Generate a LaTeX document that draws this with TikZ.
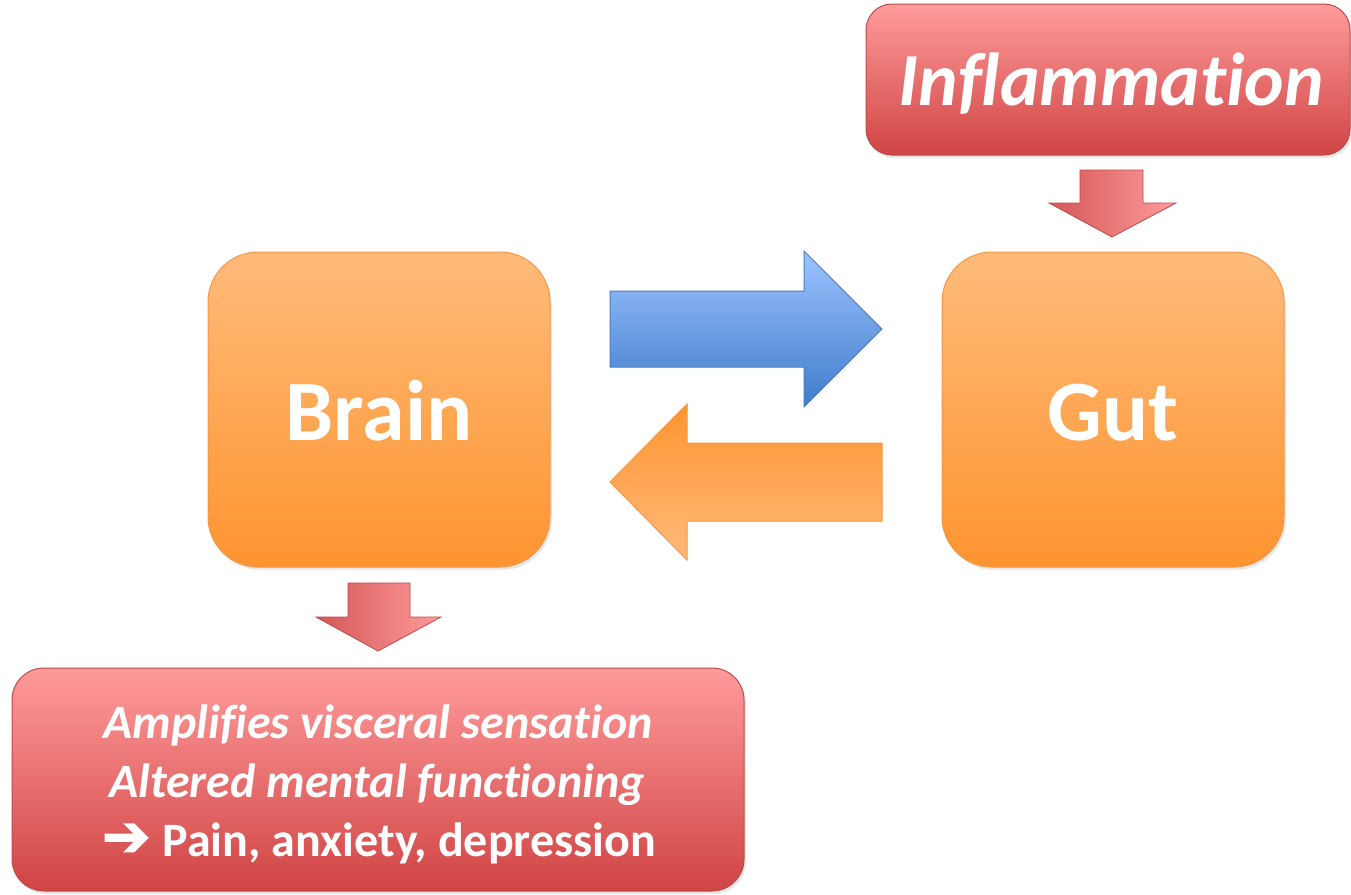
\documentclass[tikz,border=0pt]{standalone}
\usepackage{fontspec}
\setmainfont{Carlito}[Ligatures={NoCommon}, RawFeature={-liga;-dlig}]
\newfontfamily\symfont{DejaVu Sans}[FakeBold=2.5]
\usetikzlibrary{shadows}
\definecolor{orTop}{HTML}{FFBB7A}
\definecolor{orBot}{HTML}{FE9430}
\definecolor{orEdge}{HTML}{F79646}
\definecolor{rdTop}{HTML}{FF9B9B}
\definecolor{rdBot}{HTML}{D04444}
\definecolor{rdEdge}{HTML}{BE4B48}
\definecolor{blTop}{HTML}{9DC3FF}
\definecolor{blBot}{HTML}{3F7CCB}
\definecolor{blEdge}{HTML}{4A7EBB}
\tikzset{
  orbox/.style={draw=orEdge, line width=1pt, top color=orTop, bottom color=orBot, rounded corners=50pt,
     drop shadow={opacity=0.18, shadow xshift=2pt, shadow yshift=-3pt}},
  rdbox/.style={draw=rdEdge, line width=1pt, top color=rdTop, bottom color=rdBot,
     drop shadow={opacity=0.18, shadow xshift=2pt, shadow yshift=-3pt}},
  downarrow/.style={draw=rdEdge, line width=0.8pt, left color=rdBot!90!white, right color=rdTop},
  txt/.style={text=white, inner sep=0pt},
}
\begin{document}
\begin{tikzpicture}[x=1pt, y=-1pt]
\useasboundingbox (0,0) rectangle (1351,894);
% boxes
\draw[orbox] (208,252) rectangle (550,567);
\draw[orbox] (942,252) rectangle (1284,567);
\draw[rdbox, rounded corners=26pt] (866,4) rectangle (1350,155);
\draw[rdbox, rounded corners=32pt] (12,668) rectangle (744,891);
% blue arrow (right)
\draw[draw=blEdge, line width=1pt, top color=blTop, bottom color=blBot]
  (610,291) -- (804,291) -- (804,251) -- (882,329) -- (804,407) -- (804,367) -- (610,367) -- cycle;
% orange arrow (left)
\draw[draw=orEdge, line width=1pt, top color=orBot, bottom color=orTop]
  (882,443) -- (687,443) -- (687,404) -- (610,482) -- (687,560) -- (687,521) -- (882,521) -- cycle;
% small down arrows
\draw[downarrow] (1080,170) -- (1143,170) -- (1143,203) -- (1176,203) -- (1112,237) -- (1049,203) -- (1080,203) -- cycle;
\draw[downarrow] (348,583) -- (410,583) -- (410,617) -- (441,617) -- (378,651) -- (316,617) -- (348,617) -- cycle;
% texts
\node[txt, anchor=base, font=\fontsize{86}{90}\selectfont\bfseries] (brain) at (379,440) {Brain};
\node[txt, anchor=base, font=\fontsize{86}{90}\selectfont\bfseries] (gut) at (1113,440) {Gut};
\node[txt, anchor=base, font=\fontsize{75}{80}\selectfont\bfseries\itshape] (infl) at (1111,105) {Inflammation};
\node[txt, anchor=base, font=\fontsize{48}{50}\selectfont\bfseries\itshape] (l1) at (378,738) {Amplifies visceral sensation};
\node[txt, anchor=base, font=\fontsize{48}{50}\selectfont\bfseries\itshape] (l2) at (377,797) {Altered mental functioning};
\node[txt, anchor=base, font=\fontsize{48}{50}\selectfont\bfseries] (l3) at (379,856) {{\symfont\fontsize{58}{60}\selectfont ➔}\hspace{12pt}Pain, anxiety, depression};
\end{tikzpicture}
\end{document}
